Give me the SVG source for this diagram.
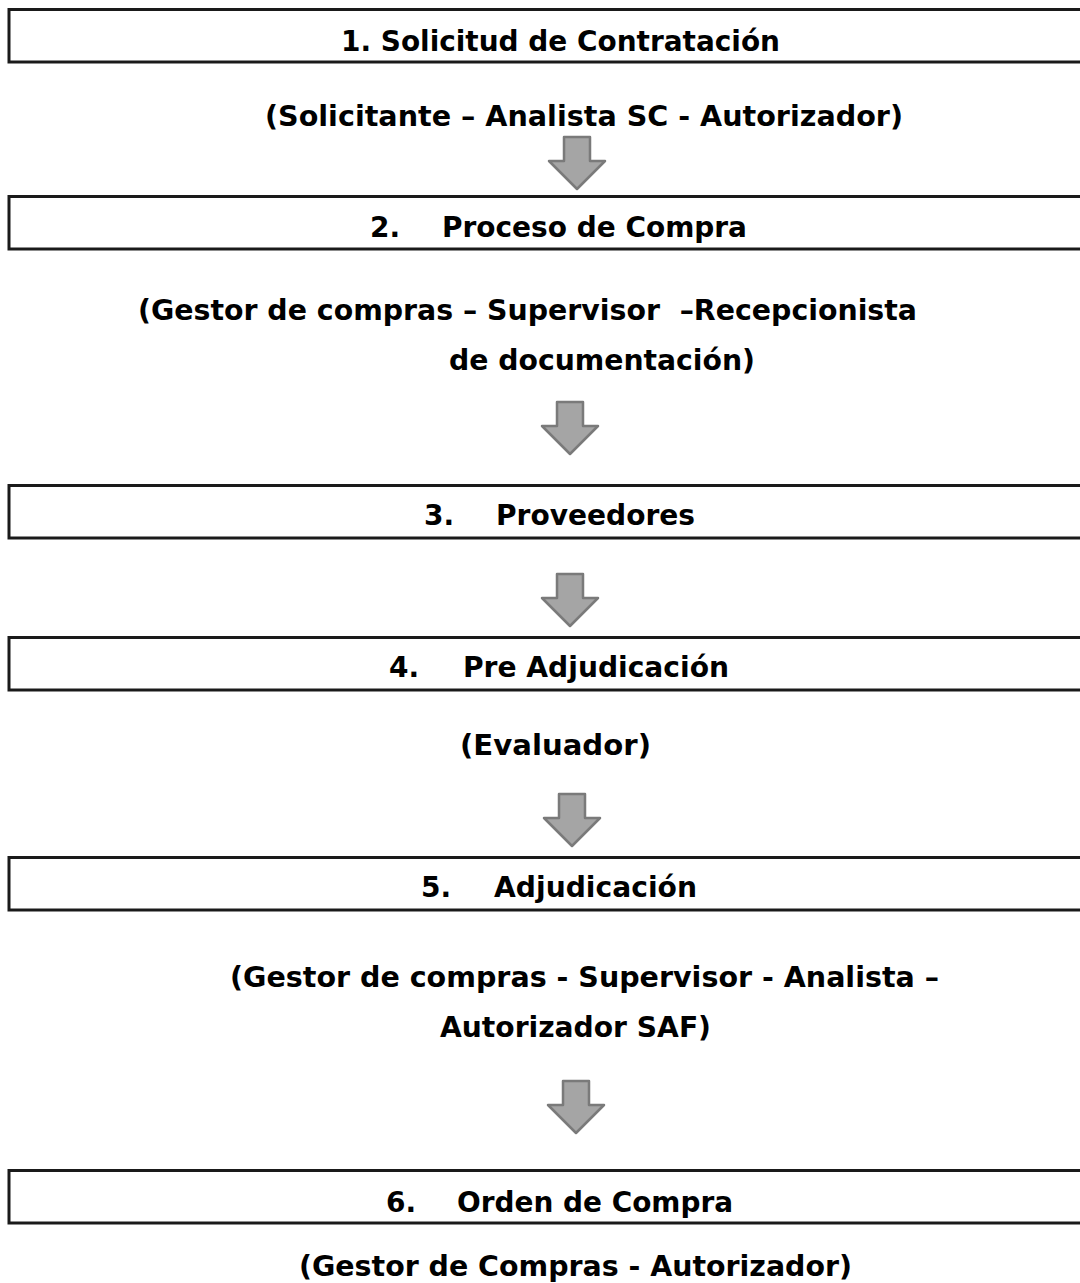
<svg xmlns="http://www.w3.org/2000/svg" width="1080" height="1283" viewBox="0 0 1080 1283">
  <style>
    .box { fill: #ffffff; stroke: #1a1a1a; stroke-width: 3; }
    .t { font-family: "DejaVu Sans", Verdana, "Liberation Sans", sans-serif; font-weight: bold; font-size: 28px; fill: #000000; white-space: pre; }
    .arrow { fill: #a5a5a5; stroke: #7a7a7a; stroke-width: 2.5; stroke-linejoin: round; }
  </style>
  <defs>
    <path id="darr" class="arrow" d="M -13 0 H 13 V 24 H 28 L 0 52 L -28 24 H -13 Z"/>
  </defs>
  <rect width="1080" height="1283" fill="#ffffff"/>

  <g id="connectors">
    <use href="#darr" x="577" y="137"/>
    <use href="#darr" x="570" y="402"/>
    <use href="#darr" x="570" y="574"/>
    <use href="#darr" x="572" y="794"/>
    <use href="#darr" x="576" y="1081"/>
  </g>

  <g id="node1">
    <rect class="box" x="9" y="9.5" width="1090" height="52.5"/>
    <text class="t" x="341" y="51" textLength="439" lengthAdjust="spacingAndGlyphs">1. Solicitud de Contratación</text>
  </g>
  <g id="label1">
    <text class="t" x="265" y="126" textLength="638" lengthAdjust="spacingAndGlyphs">(Solicitante – Analista SC - Autorizador)</text>
  </g>

  <g id="node2">
    <rect class="box" x="9" y="196.5" width="1090" height="52.5"/>
    <text class="t" x="370" y="237">2.</text>
    <text class="t" x="442" y="237" textLength="305" lengthAdjust="spacingAndGlyphs">Proceso de Compra</text>
  </g>
  <g id="label2">
    <text class="t" x="138" y="320" textLength="779" lengthAdjust="spacingAndGlyphs" xml:space="preserve">(Gestor de compras – Supervisor  –Recepcionista</text>
    <text class="t" x="449" y="370" textLength="306" lengthAdjust="spacingAndGlyphs">de documentación)</text>
  </g>

  <g id="node3">
    <rect class="box" x="9" y="485.5" width="1090" height="52.5"/>
    <text class="t" x="424" y="525">3.</text>
    <text class="t" x="496" y="525" textLength="199" lengthAdjust="spacingAndGlyphs">Proveedores</text>
  </g>

  <g id="node4">
    <rect class="box" x="9" y="637.5" width="1090" height="52.5"/>
    <text class="t" x="389" y="677">4.</text>
    <text class="t" x="463" y="677" textLength="266" lengthAdjust="spacingAndGlyphs">Pre Adjudicación</text>
  </g>
  <g id="label4">
    <text class="t" x="460" y="755" textLength="191" lengthAdjust="spacingAndGlyphs">(Evaluador)</text>
  </g>

  <g id="node5">
    <rect class="box" x="9" y="857.5" width="1090" height="52.5"/>
    <text class="t" x="421" y="897">5.</text>
    <text class="t" x="494" y="897" textLength="203" lengthAdjust="spacingAndGlyphs">Adjudicación</text>
  </g>
  <g id="label5">
    <text class="t" x="230" y="987" textLength="709" lengthAdjust="spacingAndGlyphs">(Gestor de compras - Supervisor - Analista –</text>
    <text class="t" x="440" y="1037" textLength="271" lengthAdjust="spacingAndGlyphs">Autorizador SAF)</text>
  </g>

  <g id="node6">
    <rect class="box" x="9" y="1170.5" width="1090" height="52.5"/>
    <text class="t" x="386" y="1212">6.</text>
    <text class="t" x="457" y="1212" textLength="276" lengthAdjust="spacingAndGlyphs">Orden de Compra</text>
  </g>
  <g id="label6">
    <text class="t" x="299" y="1276" textLength="553" lengthAdjust="spacingAndGlyphs">(Gestor de Compras - Autorizador)</text>
  </g>
</svg>
